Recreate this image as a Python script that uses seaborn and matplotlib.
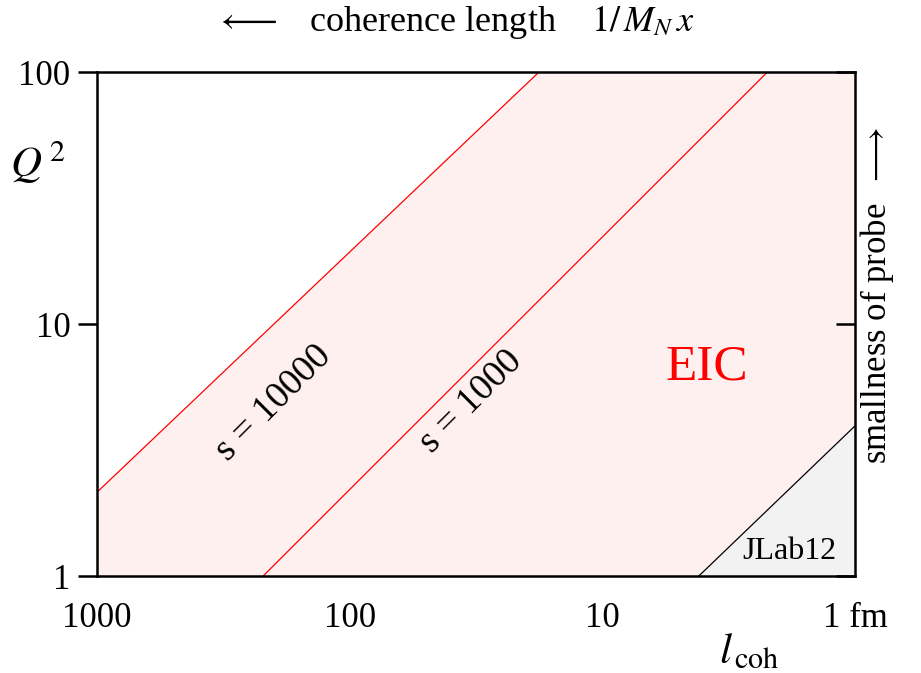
import matplotlib
matplotlib.use("Agg")
import matplotlib.pyplot as plt
import seaborn as sns

# lines (l_coh in fm, Q^2)
s10000_l = [1000, 17.8]
s10000_q2 = [2.15, 100]
s1000_l = [220, 2.22]
s1000_q2 = [1, 100]
jlab_l = [4.15, 1]
jlab_q2 = [1, 3.94]

x_ticks = [1000, 100, 10, 1]
x_labels = ['1000', '100', '10', '1 fm']
y_ticks = [1, 10, 100]
y_labels = ['1', '10', '100']

sns.set_style("white")
plt.rcParams['font.family'] = ['Liberation Serif', 'DejaVu Serif']
plt.rcParams['mathtext.fontset'] = 'stix'
plt.rcParams['text.color'] = 'black'

fig = plt.figure(figsize=(9.21, 6.73), dpi=100)
ax = fig.add_axes([0.1053, 0.1441, 0.8230, 0.7489])
ax.set_xscale('log')
ax.set_yscale('log')

# pink EIC region under the s=10000 line
ax.fill_between([s10000_l[0], s10000_l[1], 1], 1, [s10000_q2[0], s10000_q2[1], 100],
                color='#fff0f0', lw=0, zorder=0)
# JLab12 triangle
ax.fill_between(jlab_l, 1, jlab_q2, color='#f2f2f2', lw=0, zorder=1)

sns.lineplot(x=s10000_l, y=s10000_q2, ax=ax, color='red', lw=0.9)
sns.lineplot(x=s1000_l, y=s1000_q2, ax=ax, color='red', lw=0.9)
sns.lineplot(x=jlab_l, y=jlab_q2, ax=ax, color='black', lw=0.9)

ax.set_xlim(1000, 1)
ax.set_ylim(1, 100)
ax.set_xticks(x_ticks)
ax.set_xticklabels(x_labels)
ax.set_yticks(y_ticks)
ax.set_yticklabels(y_labels)
ax.minorticks_off()
ax.tick_params(axis='both', direction='out', length=14, width=1.8, labelsize=25,
               pad=5, colors='black')
for sp in ax.spines.values():
    sp.set_linewidth(1.8)
    sp.set_color('black')

# right ticks point inward
ax2 = ax.twinx()
ax2.set_yscale('log')
ax2.set_ylim(1, 100)
ax2.set_yticks(y_ticks)
ax2.minorticks_off()
ax2.tick_params(axis='y', direction='in', length=14, width=1.8, labelright=False,
                colors='black')
for sp in ax2.spines.values():
    sp.set_visible(False)

ax.text(0.233, 0.343, 's = 10000', transform=ax.transAxes, fontsize=27,
        rotation=45, ha='center', va='center', rotation_mode='anchor')
ax.text(0.494, 0.345, 's = 1000', transform=ax.transAxes, fontsize=27,
        rotation=45, ha='center', va='center', rotation_mode='anchor')
ax.text(0.805, 0.415, 'EIC', transform=ax.transAxes, fontsize=37, color='red',
        ha='center', va='center')
ax.text(0.913, 0.048, 'JLab12', transform=ax.transAxes, fontsize=23,
        ha='center', va='center')

fig.text(0.494, 0.967, r'$\longleftarrow$   coherence length    $1/\,M_N\,x$',
         fontsize=26, ha='center', va='center')
fig.text(0.952, 0.562, r'smallness of probe  $\longrightarrow$', fontsize=25,
         rotation=90, ha='center', va='center')
fig.text(0.041, 0.758, r'$Q^{\,2}$', fontsize=31, ha='center', va='center')
fig.text(0.814, 0.031, r'$l_{\,\mathrm{coh}}$', fontsize=31, ha='center', va='center')

fig.savefig('out.png', dpi=100)
